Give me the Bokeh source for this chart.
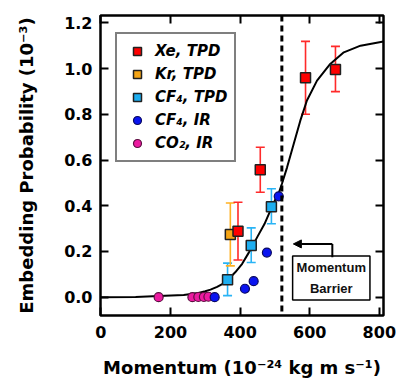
from bokeh.plotting import figure
from bokeh.models import (ColumnDataSource, Whisker, TeeHead, Legend, LegendItem, Span,
                          LinearAxis, FixedTicker, PrintfTickFormatter, Label, Arrow, NormalHead)
from bokeh.embed import file_html
from bokeh.resources import INLINE

# ---- data ----
xe_x = [394, 458, 588, 674]
xe_y = [0.288, 0.557, 0.960, 0.996]
xe_hi = [0.415, 0.656, 1.119, 1.097]
xe_lo = [0.163, 0.459, 0.800, 0.899]

kr_x = [372]
kr_y = [0.274]
kr_hi = [0.412]
kr_lo = [0.137]

cf4t_x = [364, 432, 490]
cf4t_y = [0.076, 0.226, 0.396]
cf4t_hi = [0.149, 0.303, 0.474]
cf4t_lo = [0.007, 0.152, 0.321]

cf4i_x = [327, 414, 439, 477, 511]
cf4i_y = [0.000, 0.037, 0.070, 0.195, 0.441]

co2_x = [166, 263, 280, 296, 309]
co2_y = [0.000, 0.000, 0.001, 0.001, 0.002]

fit_x = [0, 100, 166, 238, 280, 300, 315, 334, 350, 364, 386, 406, 425, 450, 470, 490, 505,
         511, 520, 535, 554, 573, 592, 621, 659, 698, 746, 812]
fit_y = [0.0, 0.001, 0.005, 0.010, 0.018, 0.026, 0.033, 0.045, 0.058, 0.074, 0.109, 0.146,
         0.195, 0.265, 0.320, 0.390, 0.440, 0.455, 0.495, 0.568, 0.670, 0.772, 0.860, 0.947,
         1.020, 1.071, 1.100, 1.118]

barrier_x = 520
x_ticks = [0, 200, 400, 600, 800]
y_ticks = [0.0, 0.2, 0.4, 0.6, 0.8, 1.0, 1.2]

FONT = "DejaVu Sans"

p = figure(width=399, height=383, x_range=(-1, 812), y_range=(-0.08, 1.232),
           output_backend="svg", toolbar_location=None,
           min_border_left=100, min_border_right=16, min_border_top=15, min_border_bottom=68)
p.grid.visible = False
p.outline_line_color = "black"
p.outline_line_width = 2.5
p.background_fill_color = "white"
p.border_fill_color = "white"

def style_axis(ax, labels=True):
    ax.axis_line_color = None
    ax.major_tick_in = 8
    ax.major_tick_out = 0
    ax.major_tick_line_width = 2
    ax.major_tick_line_color = "black"
    ax.minor_tick_line_color = None
    ax.major_label_text_font = FONT
    ax.major_label_text_font_style = "bold"
    ax.major_label_text_font_size = "16px"
    ax.major_label_text_color = "black"
    ax.axis_label_text_font = FONT
    ax.axis_label_text_font_style = "bold"
    ax.axis_label_text_font_size = "18px"
    ax.axis_label_text_color = "black"
    if not labels:
        ax.major_label_overrides = {t: "" for t in ax.ticker.ticks}
        ax.major_label_standoff = 0

xa = p.xaxis[0]
ya = p.yaxis[0]
xa.ticker = FixedTicker(ticks=x_ticks)
ya.ticker = FixedTicker(ticks=y_ticks)
ya.formatter = PrintfTickFormatter(format="%.1f")
style_axis(xa)
style_axis(ya)
xa.major_label_standoff = 10
ya.major_label_standoff = 8
xa.axis_label = "Momentum (10⁻²⁴ kg m s⁻¹)"
ya.axis_label = "Embedding Probability (10⁻³)"
xa.axis_label_standoff = 16
ya.axis_label_standoff = 24

top = LinearAxis(ticker=FixedTicker(ticks=x_ticks))
style_axis(top, labels=False)
p.add_layout(top, "above")
right = LinearAxis(ticker=FixedTicker(ticks=y_ticks))
style_axis(right, labels=False)
p.add_layout(right, "right")

# fit curve
p.line(fit_x, fit_y, line_color="black", line_width=2)

# barrier line
p.add_layout(Span(location=barrier_x, dimension="height", line_color="black",
                  line_width=3, line_dash="6 4"))

def whisk(x, lo, hi, color):
    src = ColumnDataSource(dict(base=x, lower=lo, upper=hi))
    w = Whisker(source=src, base="base", lower="lower", upper="upper",
                line_color=color, line_width=1.6,
                upper_head=TeeHead(size=9, line_color=color, line_width=1.6),
                lower_head=TeeHead(size=9, line_color=color, line_width=1.6))
    p.add_layout(w)

whisk(cf4t_x, cf4t_lo, cf4t_hi, "#2ab4f5")
whisk(kr_x, kr_lo, kr_hi, "#ffb020")
whisk(xe_x, xe_lo, xe_hi, "#ff2a2a")

r_co2 = p.scatter(co2_x, co2_y, marker="circle", size=9, fill_color="#ec1aa0",
                  line_color="#5a1040", line_width=1.2)
r_cf4i = p.scatter(cf4i_x, cf4i_y, marker="circle", size=9, fill_color="#0a14f0",
                   line_color="#0a0a60", line_width=1.2)
r_cf4t = p.scatter(cf4t_x, cf4t_y, marker="square", size=10, fill_color="#1eaef0",
                   line_color="#202020", line_width=1.5)
r_kr = p.scatter(kr_x, kr_y, marker="square", size=10, fill_color="#f5a516",
                 line_color="#202020", line_width=1.5)
r_xe = p.scatter(xe_x, xe_y, marker="square", size=10, fill_color="#ff0000",
                 line_color="#202020", line_width=1.5)

legend = Legend(items=[
    LegendItem(label="Xe, TPD", renderers=[r_xe]),
    LegendItem(label="Kr, TPD", renderers=[r_kr]),
    LegendItem(label="CF₄, TPD", renderers=[r_cf4t]),
    LegendItem(label="CF₄, IR", renderers=[r_cf4i]),
    LegendItem(label="CO₂, IR  ", renderers=[r_co2]),
], location=(15, 153))
legend.label_text_font = FONT
legend.label_text_font_style = "bold italic"
legend.label_text_font_size = "15px"
legend.label_text_color = "black"
legend.border_line_color = "black"
legend.border_line_width = 2
legend.background_fill_color = "white"
legend.background_fill_alpha = 1
legend.padding = 7
legend.spacing = 3
legend.glyph_width = 26
legend.glyph_height = 20
legend.label_height = 20
legend.label_standoff = 5
legend.margin = 0
p.add_layout(legend, "center")

# annotation: Momentum Barrier
p.add_layout(Label(x=662, y=0.084, text="Momentum\nBarrier", text_align="center",
                   text_baseline="middle", text_font="Liberation Sans",
                   text_font_style="bold", text_font_size="13px", text_color="#111111",
                   text_line_height=1.4, padding=4,
                   border_line_color="black", border_line_width=1.5,
                   background_fill_color="white"))
p.add_layout(Arrow(x_start=665, y_start=0.175, x_end=665, y_end=0.233, end=None,
                   line_color="black", line_width=2))
p.add_layout(Arrow(x_start=665, y_start=0.233, x_end=553, y_end=0.233,
                   end=NormalHead(size=8, fill_color="black", line_color="black"),
                   line_color="black", line_width=2))

open("out.html", "w").write(file_html(p, INLINE))
